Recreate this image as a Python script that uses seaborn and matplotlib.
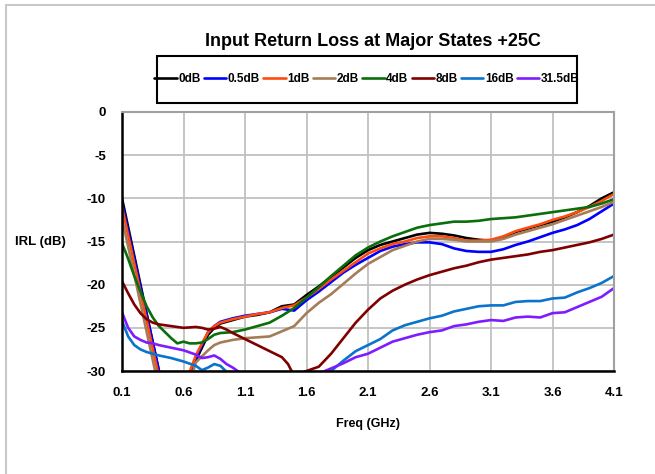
import matplotlib
matplotlib.use("Agg")
import matplotlib.pyplot as plt
from matplotlib.patches import Rectangle
import pandas as pd
import seaborn as sns

# IRL (dB), values below -30 run off the bottom of the plot
freq_0 = [0.1, 0.45, 0.6, 0.7, 0.75, 0.8, 0.85, 0.9, 1.0, 1.1, 1.2, 1.3, 1.4, 1.5, 1.6, 1.7, 1.8, 1.9, 2.0,
          2.1, 2.2, 2.3, 2.4, 2.5, 2.6, 2.7, 2.8, 2.9, 3.0, 3.1, 3.2, 3.3, 3.4, 3.5, 3.6, 3.7, 3.8, 3.9, 4.0, 4.1]
irl_0 = [-10.0, -33.3, -33.0, -28.8, -27.3, -25.8, -25.0, -24.5, -24.1, -23.7, -23.5, -23.2, -22.5, -22.3, -21.2,
         -20.2, -19.1, -18.0, -16.9, -16.0, -15.4, -15.0, -14.6, -14.2, -14.0, -14.1, -14.3, -14.6, -14.8, -14.9,
         -14.5, -13.9, -13.5, -13.1, -12.7, -12.2, -11.6, -10.9, -10.0, -9.3]
irl_05 = [-10.5, -33.2, -33.0, -28.5, -27.0, -25.5, -24.8, -24.3, -23.9, -23.6, -23.4, -23.2, -22.8, -23.0, -21.8,
          -20.8, -19.7, -18.6, -17.7, -16.9, -16.1, -15.6, -15.3, -15.1, -15.1, -15.3, -15.8, -16.1, -16.2, -16.2,
          -15.9, -15.4, -15.0, -14.5, -14.0, -13.6, -13.1, -12.4, -11.5, -10.6]
irl_1 = [-11.0, -34.0, -32.0, -28.2, -26.8, -25.5, -24.8, -24.4, -24.0, -23.7, -23.4, -23.2, -22.7, -22.4, -21.5,
         -20.5, -19.4, -18.4, -17.4, -16.4, -15.8, -15.3, -15.0, -14.6, -14.4, -14.4, -14.6, -14.9, -14.9, -14.8,
         -14.4, -13.8, -13.4, -13.0, -12.5, -12.1, -11.6, -11.0, -10.3, -9.5]
irl_2 = [-12.3, -35.3, -34.0, -29.0, -28.3, -27.6, -27.0, -26.7, -26.4, -26.2, -26.1, -26.0, -25.4, -24.8, -23.3,
         -22.1, -21.1, -19.9, -18.7, -17.6, -16.8, -16.0, -15.5, -15.0, -14.7, -14.7, -14.8, -15.0, -15.0, -15.0,
         -14.7, -14.2, -13.8, -13.4, -13.0, -12.5, -12.0, -11.5, -11.0, -10.4]

freq_4 = [0.1, 0.15, 0.2, 0.25, 0.3, 0.35, 0.4, 0.45, 0.5, 0.55, 0.6, 0.65, 0.7, 0.75, 0.8, 0.85, 0.9, 1.0, 1.1,
          1.2, 1.3, 1.4, 1.5, 1.6, 1.7, 1.8, 1.9, 2.0, 2.1, 2.2, 2.3, 2.4, 2.5, 2.6, 2.7, 2.8, 2.9, 3.0, 3.1, 3.2,
          3.3, 3.4, 3.5, 3.6, 3.7, 3.8, 3.9, 4.0, 4.1]
irl_4 = [-15.2, -17.0, -19.0, -20.8, -22.5, -23.8, -24.8, -25.5, -26.2, -26.8, -26.6, -26.8, -26.8, -26.7, -26.3,
         -25.8, -25.6, -25.5, -25.2, -24.8, -24.4, -23.6, -22.7, -21.5, -20.3, -19.0, -17.8, -16.6, -15.7, -15.0,
         -14.4, -13.9, -13.4, -13.1, -12.9, -12.7, -12.7, -12.6, -12.4, -12.3, -12.2, -12.0, -11.8, -11.6, -11.4,
         -11.2, -11.0, -10.6, -10.1]

freq_8 = [0.1, 0.15, 0.2, 0.25, 0.3, 0.35, 0.4, 0.5, 0.6, 0.7, 0.75, 0.8, 0.85, 0.9, 0.95, 1.0, 1.1, 1.2, 1.3,
          1.4, 1.45, 1.5, 1.55, 1.6, 1.7, 1.8, 1.9, 2.0, 2.1, 2.2, 2.3, 2.4, 2.5, 2.6, 2.7, 2.8, 2.9, 3.0, 3.1,
          3.2, 3.3, 3.4, 3.5, 3.6, 3.7, 3.8, 3.9, 4.0, 4.1]
irl_8 = [-19.6, -21.0, -22.3, -23.3, -24.0, -24.4, -24.6, -24.8, -25.0, -24.9, -25.0, -25.2, -25.1, -24.9, -25.2,
         -25.6, -26.3, -27.0, -27.7, -28.4, -29.2, -30.6, -30.3, -30.0, -29.5, -28.0, -26.2, -24.4, -22.9, -21.6,
         -20.7, -20.0, -19.4, -18.9, -18.5, -18.1, -17.8, -17.4, -17.1, -16.9, -16.7, -16.5, -16.2, -16.0, -15.7,
         -15.4, -15.1, -14.7, -14.2]

freq_16 = [0.1, 0.15, 0.2, 0.25, 0.3, 0.35, 0.4, 0.5, 0.6, 0.7, 0.75, 0.8, 0.85, 0.9, 0.95, 1.0, 1.1, 1.4, 1.7,
           1.8, 1.9, 2.0, 2.1, 2.2, 2.3, 2.4, 2.5, 2.6, 2.7, 2.8, 2.9, 3.0, 3.1, 3.2, 3.3, 3.4, 3.5, 3.6, 3.7,
           3.8, 3.9, 4.0, 4.1]
irl_16 = [-24.2, -26.0, -27.0, -27.5, -27.8, -28.0, -28.2, -28.5, -28.9, -29.4, -29.9, -29.6, -29.2, -29.4,
          -30.1, -30.8, -31.5, -34.0, -32.0, -30.0, -28.8, -27.7, -27.0, -26.3, -25.3, -24.7, -24.3, -23.9, -23.6,
          -23.1, -22.8, -22.5, -22.4, -22.4, -22.0, -21.9, -21.9, -21.6, -21.5, -20.9, -20.4, -19.8, -19.0]

freq_31 = [0.1, 0.15, 0.2, 0.25, 0.3, 0.35, 0.4, 0.5, 0.6, 0.7, 0.75, 0.8, 0.85, 0.9, 0.95, 1.0, 1.05, 1.1, 1.4,
           1.7, 1.8, 1.9, 2.0, 2.1, 2.2, 2.3, 2.4, 2.5, 2.6, 2.7, 2.8, 2.9, 3.0, 3.1, 3.2, 3.3, 3.4, 3.5, 3.6,
           3.7, 3.8, 3.9, 4.0, 4.1]
irl_31 = [-23.2, -25.0, -26.0, -26.4, -26.7, -26.8, -27.0, -27.3, -27.6, -28.1, -28.5, -28.4, -28.2, -28.6,
          -29.2, -29.6, -30.1, -31.0, -34.0, -30.3, -29.7, -29.1, -28.4, -28.0, -27.3, -26.6, -26.2, -25.8, -25.5,
          -25.3, -24.8, -24.6, -24.3, -24.1, -24.2, -23.8, -23.7, -23.8, -23.3, -23.2, -22.6, -22.0, -21.4, -20.4]

states = ["0dB", "0.5dB", "1dB", "2dB", "4dB", "8dB", "16dB", "31.5dB"]
colors = ["#000000", "#0000FF", "#FF4A10", "#A57C55", "#0A6E0A", "#800000", "#0A73CC", "#7F1CFF"]

series = [(freq_0, irl_0), (freq_0, irl_05), (freq_0, irl_1), (freq_0, irl_2),
          (freq_4, irl_4), (freq_8, irl_8), (freq_16, irl_16), (freq_31, irl_31)]
df = pd.concat([pd.DataFrame({"freq": f, "irl": v, "state": s}) for s, (f, v) in zip(states, series)])

sns.set_style("white")
plt.rcParams["font.family"] = ["Liberation Sans", "DejaVu Sans"]
plt.rcParams["font.weight"] = "bold"
plt.rcParams["axes.unicode_minus"] = False
plt.rcParams["text.color"] = "black"
plt.rcParams["axes.labelcolor"] = "black"
plt.rcParams["xtick.color"] = "black"
plt.rcParams["ytick.color"] = "black"

fig = plt.figure(figsize=(6.55, 4.74), dpi=100)
ax = fig.add_axes([122 / 655, 1 - 371 / 474, 492 / 655, 259 / 474])

sns.lineplot(data=df, x="freq", y="irl", hue="state", hue_order=states,
             palette=dict(zip(states, colors)), estimator=None, sort=False,
             linewidth=1.9, ax=ax)

ax.set_xlim(0.1, 4.1)
ax.set_ylim(-30, 0)
ax.set_xticks([0.1, 0.6, 1.1, 1.6, 2.1, 2.6, 3.1, 3.6, 4.1])
ax.set_yticks([0, -5, -10, -15, -20, -25, -30])
ax.set_xticklabels(["0.1", "0.6", "1.1", "1.6", "2.1", "2.6", "3.1", "3.6", "4.1"])
ax.grid(True, color="#C0C0C0", linewidth=1.3)
ax.set_axisbelow(True)

for side in ["top", "right"]:
    ax.spines[side].set_color("#A0A0A0")
    ax.spines[side].set_linewidth(1.5)
for side in ["left", "bottom"]:
    ax.spines[side].set_color("black")
    ax.spines[side].set_linewidth(1.8)

ax.tick_params(axis="both", direction="inout", length=7, width=1.5, color="black",
               labelcolor="black", labelsize=9.5, pad=8)
for lbl in ax.get_xticklabels() + ax.get_yticklabels():
    lbl.set_fontweight("bold")

ax.set_xlabel("Freq (GHz)", fontsize=9, fontweight="bold", color="black")
ax.xaxis.set_label_coords(0.5, -0.18)
ax.set_ylabel("IRL (dB)", fontsize=9.5, fontweight="bold", rotation=0, ha="center", va="center",
              color="black")
ax.yaxis.set_label_coords(-0.165, 0.5)

handles, labels = ax.get_legend_handles_labels()
ax.get_legend().remove()
fig.legend(handles, labels, loc="center", bbox_to_anchor=(367 / 655, 1 - 79 / 474),
           ncol=8, frameon=False, prop={"size": 8.5, "weight": "bold"},
           handlelength=1.9, handletextpad=0.15, columnspacing=0.25)

fig.patches.append(Rectangle((157 / 655, 1 - 103 / 474), 420 / 655, 47 / 474, fill=False,
                             edgecolor="black", linewidth=1.5, transform=fig.transFigure))
fig.patches.append(Rectangle((6 / 655, -0.1), 1.2, 1.1 - 5 / 474, fill=False,
                             edgecolor="#C8C8C8", linewidth=1.5, transform=fig.transFigure))

fig.text(373 / 655, 1 - 42 / 474, "Input Return Loss at Major States +25C",
         ha="center", va="center", fontsize=13, fontweight="bold", color="black")

fig.savefig("out.png", dpi=100)
